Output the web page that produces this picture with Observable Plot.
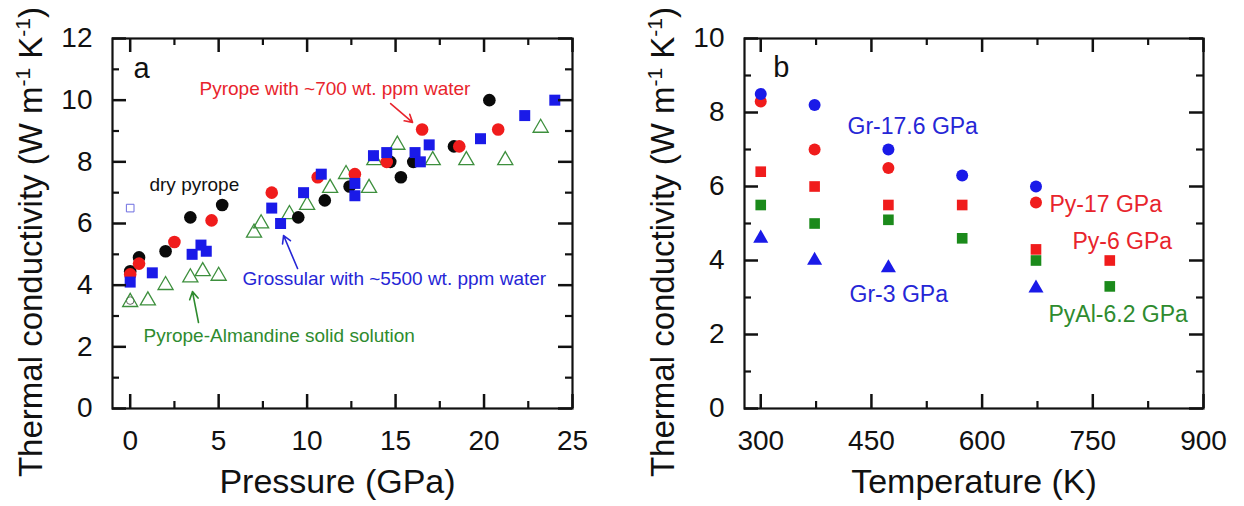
<!DOCTYPE html>
<html><head><meta charset="utf-8">
<script src="https://cdn.jsdelivr.net/npm/d3@7"></script>
<script src="https://cdn.jsdelivr.net/npm/@observablehq/plot@0.6"></script>
<style>
body{margin:0;background:#fff;}
#wrap{display:flex;width:1244px;height:506px;}
</style></head><body><div id="wrap"></div>
<script>
// ---------- Panel a data (Pressure GPa, Thermal conductivity) ----------
const dryPyP = [0, 0.5, 2.0, 3.4, 5.2, 9.5, 11.0, 12.4, 14.7, 15.3, 16.0, 18.3, 20.3];
const dryPyK = [4.45, 4.9, 5.1, 6.2, 6.6, 6.2, 6.75, 7.2, 8.0, 7.5, 8.0, 8.5, 10.0];
const wetPyP = [0, 0.5, 2.5, 4.6, 8.0, 10.6, 12.7, 14.5, 16.5, 18.6, 20.8];
const wetPyK = [4.35, 4.7, 5.4, 6.1, 7.0, 7.5, 7.6, 8.0, 9.05, 8.5, 9.05];
const grossP = [0, 1.25, 3.5, 4.0, 4.3, 8.0, 8.5, 9.8, 10.8, 12.7, 12.7, 13.75, 14.5, 16.1, 16.4, 16.9, 19.8, 22.3, 24.0];
const grossK = [4.1, 4.4, 5.0, 5.3, 5.1, 6.5, 6.0, 7.0, 7.6, 7.3, 6.9, 8.2, 8.3, 8.3, 8.0, 8.55, 8.75, 9.5, 10.0];
const pyAlmP = [0, 1.0, 2.0, 3.4, 4.1, 5.0, 7.0, 7.4, 9.0, 10.0, 11.3, 12.2, 13.5, 13.8, 15.1, 17.1, 19.0, 21.2, 23.2];
const pyAlmK = [3.45, 3.5, 4.0, 4.25, 4.45, 4.3, 5.7, 6.0, 6.3, 6.6, 7.15, 7.6, 7.15, 8.05, 8.55, 8.05, 8.05, 8.05, 9.1];
const openSqP = [0], openSqK = [6.5];
const openCiP = [0], openCiK = [3.5];

const labelsAText = ["a", "Pyrope with ~700 wt. ppm water", "dry pyrope", "Grossular with ~5500 wt. ppm water", "Pyrope-Almandine solid solution"];
const labelsAX = [0.19, 3.92, 1.09, 6.35, 0.75];
const labelsAY = [10.73, 10.18, 7.07, 3.99, 2.17];
const labelsAColor = ["#111111", "#e8242c", "#111111", "#2626d6", "#2e8b2e"];
const labelsASize = [29, 19, 19, 19, 19];

const arrowsAX1 = [14.72, 9.46, 3.86];
const arrowsAY1 = [9.89, 4.54, 2.79];
const arrowsAX2 = [15.96, 8.67, 3.52];
const arrowsAY2 = [9.28, 5.61, 3.79];
const arrowsAColor = ["#e8242c", "#2626d6", "#2e8b2e"];

// ---------- Panel b data (Temperature K, Thermal conductivity) ----------
const gr176T = [300, 373, 473, 573, 673];
const gr176K = [8.5, 8.2, 7.0, 6.3, 6.0];
const py17T = [300, 373, 473, 673];
const py17K = [8.3, 7.0, 6.5, 5.57];
const py6T = [300, 373, 473, 573, 673, 773];
const py6K = [6.4, 6.0, 5.5, 5.5, 4.3, 4.0];
const pyAl62T = [300, 373, 473, 573, 673, 773];
const pyAl62K = [5.5, 5.0, 5.1, 4.6, 4.0, 3.3];
const gr3T = [300, 373, 473, 673];
const gr3K = [4.6, 4.0, 3.8, 3.25];

const labelsBText = ["b", "Gr-17.6 GPa", "Py-17 GPa", "Py-6 GPa", "Gr-3 GPa", "PyAl-6.2 GPa"];
const labelsBX = [317, 417.6, 691.3, 722.4, 420.3, 690];
const labelsBY = [8.95, 7.43, 5.30, 4.32, 2.89, 2.35];
const labelsBColor = ["#111111", "#2626d6", "#e8242c", "#e8242c", "#2626d6", "#2e8b2e"];
const labelsBSize = [29, 23, 23, 23, 23, 23];

// ---------- Axes ----------
const aXMajor = [0, 5, 10, 15, 20, 25], aXMinor = [2.5, 7.5, 12.5, 17.5, 22.5];
const aYMajor = [0, 2, 4, 6, 8, 10, 12], aYMinor = [1, 3, 5, 7, 9, 11];
const bXMajor = [300, 450, 600, 750, 900], bXMinor = [375, 525, 675, 825];
const bYMajor = [0, 2, 4, 6, 8, 10], bYMinor = [1, 3, 5, 7, 9];

const FONT = '"Liberation Sans", Arial, Helvetica, sans-serif';
const RED = "#f01c1c", BLUE = "#1a1ae8", GREEN = "#1b8a1b", BLACK = "#0a0a0a";
const TICK = "#111111";

const pts = (xs, ys) => xs.map((x, i) => ({x, y: ys[i]}));

function textMarks(texts, xs, ys, colors, sizes) {
  return texts.map((t, i) => Plot.text([{x: xs[i], y: ys[i], t}], {
    x: "x", y: "y", text: "t", fill: colors[i], fontSize: sizes[i],
    textAnchor: "start", lineAnchor: "bottom"
  }));
}

// inward tick marks on all four sides: rules inset to a fixed pixel length
function tickMarks(xMajor, xMinor, yMajor, yMinor, fw, fh) {
  const marks = [];
  for (const [vals, len, w] of [[xMajor, 14, 2.5], [xMinor, 7, 2.2]]) {
    marks.push(Plot.ruleX(vals, {x: (d) => d, stroke: TICK, strokeWidth: w, insetTop: fh - len}));
    marks.push(Plot.ruleX(vals, {x: (d) => d, stroke: TICK, strokeWidth: w, insetBottom: fh - len}));
  }
  for (const [vals, len, w] of [[yMajor, 14, 2.5], [yMinor, 7, 2.2]]) {
    marks.push(Plot.ruleY(vals, {y: (d) => d, stroke: TICK, strokeWidth: w, insetRight: fw - len}));
    marks.push(Plot.ruleY(vals, {y: (d) => d, stroke: TICK, strokeWidth: w, insetLeft: fw - len}));
  }
  return marks;
}

function axisLabels(xMajor, yMajor) {
  return [
    Plot.frame({stroke: TICK, strokeWidth: 2.2}),
    Plot.axisX({ticks: xMajor, anchor: "bottom", tickSize: 0, tickPadding: 22, fontSize: 28, label: null, fill: "#111"}),
    Plot.axisY({ticks: yMajor, anchor: "left", tickSize: 0, tickPadding: 20, fontSize: 28, label: null, fill: "#111"})
  ];
}

function yTitle(svg, x) {
  const t = d3.select(svg).append("text")
    .attr("transform", `translate(${x},242) rotate(-90)`)
    .attr("text-anchor", "middle")
    .attr("fill", "#111")
    .style("font-family", FONT)
    .style("font-size", "33px");
  t.append("tspan").text("Thermal conductivity (W m");
  t.append("tspan").attr("dy", -12).style("font-size", "21px").text("-1");
  t.append("tspan").attr("dy", 12).text(" K");
  t.append("tspan").attr("dy", -12).style("font-size", "21px").text("-1");
  t.append("tspan").attr("dy", 12).text(")");
}

// ---------- Panel a ----------
const plotA = Plot.plot({
  width: 622, height: 506,
  marginLeft: 112, marginRight: 50, marginTop: 38, marginBottom: 98,
  x: {domain: [-1, 25]}, y: {domain: [0, 12]},
  style: {fontFamily: FONT},
  marks: [
    ...axisLabels(aXMajor, aYMajor),
    Plot.dot(pts(openCiP, openCiK), {x: "x", y: "y", r: 3.8, stroke: "#666", strokeWidth: 1, fill: "none"}),
    Plot.dot(pts(pyAlmP, pyAlmK), {x: "x", y: "y", symbol: "triangle", r: 5.6, stroke: "#3d8f3d", strokeWidth: 1.3, fill: "none"}),
    Plot.dot(pts(dryPyP, dryPyK), {x: "x", y: "y", r: 6.3, fill: BLACK}),
    Plot.dot(pts(wetPyP, wetPyK), {x: "x", y: "y", r: 6.3, fill: RED}),
    Plot.dot(pts(grossP, grossK), {x: "x", y: "y", symbol: "square", r: 6.2, fill: BLUE}),
    Plot.dot(pts(openSqP, openSqK), {x: "x", y: "y", symbol: "square", r: 4.3, stroke: "#6e6ee0", strokeWidth: 1, fill: "white"}),
    ...arrowsAColor.map((col, i) => Plot.arrow([{x1: arrowsAX1[i], y1: arrowsAY1[i], x2: arrowsAX2[i], y2: arrowsAY2[i]}],
      {x1: "x1", y1: "y1", x2: "x2", y2: "y2", stroke: col, strokeWidth: 1.6, headLength: 8})),
    ...textMarks(labelsAText, labelsAX, labelsAY, labelsAColor, labelsASize),
    Plot.text(["Pressure (GPa)"], {frameAnchor: "bottom", dy: 84, lineAnchor: "bottom", fontSize: 34, fill: "#111", dx: -5}),
    ...tickMarks(aXMajor, aXMinor, aYMajor, aYMinor, 622 - 112 - 50, 506 - 38 - 98)
  ]
});
yTitle(plotA, 42);

// ---------- Panel b ----------
const plotB = Plot.plot({
  width: 622, height: 506,
  marginLeft: 122, marginRight: 41, marginTop: 38, marginBottom: 98,
  x: {domain: [278, 900]}, y: {domain: [0, 10]},
  style: {fontFamily: FONT},
  marks: [
    ...axisLabels(bXMajor, bYMajor),
    Plot.dot(pts(py17T, py17K), {x: "x", y: "y", r: 6, fill: RED}),
    Plot.dot(pts(gr176T, gr176K), {x: "x", y: "y", r: 6, fill: BLUE}),
    Plot.dot(pts(py6T, py6K), {x: "x", y: "y", symbol: "square", r: 6, fill: RED}),
    Plot.dot(pts(pyAl62T, pyAl62K), {x: "x", y: "y", symbol: "square", r: 6, fill: GREEN}),
    Plot.dot(pts(gr3T, gr3K), {x: "x", y: "y", symbol: "triangle", r: 5.6, fill: BLUE}),
    ...textMarks(labelsBText, labelsBX, labelsBY, labelsBColor, labelsBSize),
    Plot.text(["Temperature (K)"], {frameAnchor: "bottom", dy: 84, lineAnchor: "bottom", fontSize: 34, fill: "#111"}),
    ...tickMarks(bXMajor, bXMinor, bYMajor, bYMinor, 622 - 122 - 41, 506 - 38 - 98)
  ]
});
yTitle(plotB, 52);

document.getElementById("wrap").append(plotA, plotB);
</script>
</body></html>
